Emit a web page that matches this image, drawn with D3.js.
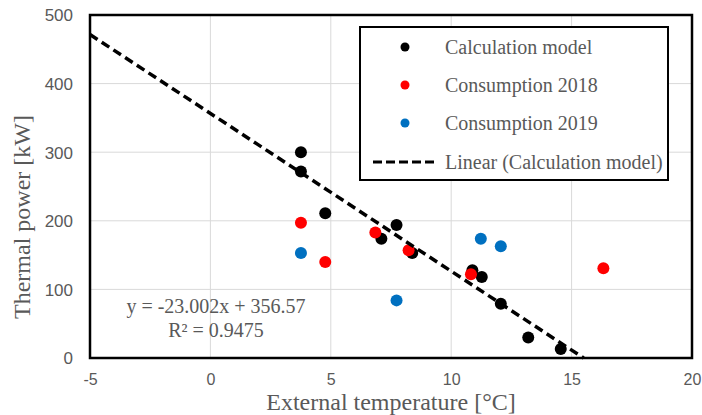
<!DOCTYPE html>
<html>
<head>
<meta charset="utf-8">
<script src="https://cdn.jsdelivr.net/npm/d3@7"></script>
<style>
  html, body { margin: 0; padding: 0; background: #fff; }
  svg { display: block; }
</style>
</head>
<body>
<svg id="chart" width="702" height="415"></svg>
<script>
// ---- data ----
const calcX = [3.76, 3.76, 4.77, 7.73, 7.10, 8.38, 10.88, 11.27, 12.06, 13.20, 14.55];
const calcY = [300, 272, 211, 194, 174, 153, 128, 118, 79, 30, 13];
const cons2018X = [3.76, 4.77, 6.85, 8.23, 10.82, 16.32];
const cons2018Y = [197, 140, 183, 157, 122, 131];
const cons2019X = [3.76, 7.73, 11.23, 12.06];
const cons2019Y = [153, 84, 174, 163];
const trendSlope = -23.002;
const trendIntercept = 356.57;
const rSquared = 0.9475;
const xTicks = [-5, 0, 5, 10, 15, 20];
const yTicks = [0, 100, 200, 300, 400, 500];
const seriesNames = ["Calculation model", "Consumption 2018", "Consumption 2019", "Linear (Calculation model)"];
const seriesColors = ["#000000", "#ff0000", "#0070c0"];

// ---- layout ----
const svg = d3.select("#chart");
const x = d3.scaleLinear().domain([-5, 20]).range([90, 692]);
const y = d3.scaleLinear().domain([0, 500]).range([358, 15]);
const grey = "#595959";

// gridlines
svg.append("g").selectAll("line.vg").data(xTicks.slice(1, -1)).join("line")
  .attr("x1", d => x(d)).attr("x2", d => x(d))
  .attr("y1", y(0)).attr("y2", y(500))
  .attr("stroke", "#d9d9d9").attr("stroke-width", 1);
svg.append("g").selectAll("line.hg").data(yTicks.slice(1, -1)).join("line")
  .attr("x1", x(-5)).attr("x2", x(20))
  .attr("y1", d => y(d)).attr("y2", d => y(d))
  .attr("stroke", "#d9d9d9").attr("stroke-width", 1);

// axes (labels only)
const xAxis = d3.axisBottom(x).tickValues(xTicks).tickSize(0).tickPadding(0).tickFormat(d => String(d));
const gx = svg.append("g").attr("transform", `translate(0,${y(0)})`).call(xAxis);
gx.select(".domain").remove();
gx.selectAll("text").attr("dy", null).attr("y", 27)
  .attr("font-family", "'Liberation Sans', Arial, sans-serif").attr("font-size", 16).attr("fill", grey);

const yAxis = d3.axisLeft(y).tickValues(yTicks).tickSize(0).tickPadding(0).tickFormat(d => String(d));
const gy = svg.append("g").attr("transform", `translate(${x(-5)},0)`).call(yAxis);
gy.select(".domain").remove();
gy.selectAll("text").attr("x", -17).attr("dy", "0.35em")
  .attr("font-family", "'Liberation Sans', Arial, sans-serif").attr("font-size", 17).attr("fill", grey);

// trendline
const lineGen = d3.line().x(d => x(d)).y(d => y(trendSlope * d + trendIntercept));
const xEnd = -trendIntercept / trendSlope;

// points
function drawSeries(xs, ys, color) {
  svg.append("g").selectAll("circle").data(xs.map((v, i) => [v, ys[i]])).join("circle")
    .attr("cx", d => x(d[0])).attr("cy", d => y(d[1])).attr("r", 6)
    .attr("fill", color);
}
drawSeries(calcX, calcY, seriesColors[0]);
drawSeries(cons2018X, cons2018Y, seriesColors[1]);
drawSeries(cons2019X, cons2019Y, seriesColors[2]);

svg.append("path").datum([-5, xEnd]).attr("d", lineGen)
  .attr("fill", "none").attr("stroke", "#000").attr("stroke-width", 3.5)
  .attr("stroke-dasharray", "9,5");

// plot border
svg.append("rect").attr("x", x(-5)).attr("y", y(500))
  .attr("width", x(20) - x(-5)).attr("height", y(0) - y(500))
  .attr("fill", "none").attr("stroke", "#000").attr("stroke-width", 2.5);

// equation
const serif = "'Liberation Serif', 'Times New Roman', serif";
svg.append("text").attr("x", 216).attr("y", 313).attr("text-anchor", "middle")
  .attr("font-family", serif).attr("font-size", 20).attr("fill", grey)
  .text(`y = ${trendSlope}x + ${trendIntercept}`);
svg.append("text").attr("x", 216).attr("y", 337).attr("text-anchor", "middle")
  .attr("font-family", serif).attr("font-size", 20).attr("fill", grey)
  .text(`R² = ${rSquared}`);

// axis titles
svg.append("text").attr("x", 391).attr("y", 410).attr("text-anchor", "middle")
  .attr("font-family", serif).attr("font-size", 24).attr("fill", grey)
  .text("External temperature [°C]");
svg.append("text").attr("transform", "translate(30,217) rotate(-90)").attr("text-anchor", "middle")
  .attr("font-family", serif).attr("font-size", 24).attr("fill", grey)
  .text("Thermal power [kW]");

// legend
const lg = svg.append("g");
lg.append("rect").attr("x", 360).attr("y", 27).attr("width", 308).attr("height", 153)
  .attr("fill", "#fff").attr("stroke", "#000").attr("stroke-width", 2);
const rowsY = [47, 85, 123, 162];
seriesNames.forEach((name, i) => {
  if (i < 3) {
    lg.append("circle").attr("cx", 405).attr("cy", rowsY[i]).attr("r", 4.5).attr("fill", seriesColors[i]);
  } else {
    lg.append("line").attr("x1", 373).attr("x2", 437).attr("y1", rowsY[i]).attr("y2", rowsY[i])
      .attr("stroke", "#000").attr("stroke-width", 3).attr("stroke-dasharray", "9,4");
  }
  lg.append("text").attr("x", 445).attr("y", rowsY[i]).attr("dy", "0.35em")
    .attr("font-family", serif).attr("font-size", 20).attr("fill", grey).text(name);
});
</script>
</body>
</html>
